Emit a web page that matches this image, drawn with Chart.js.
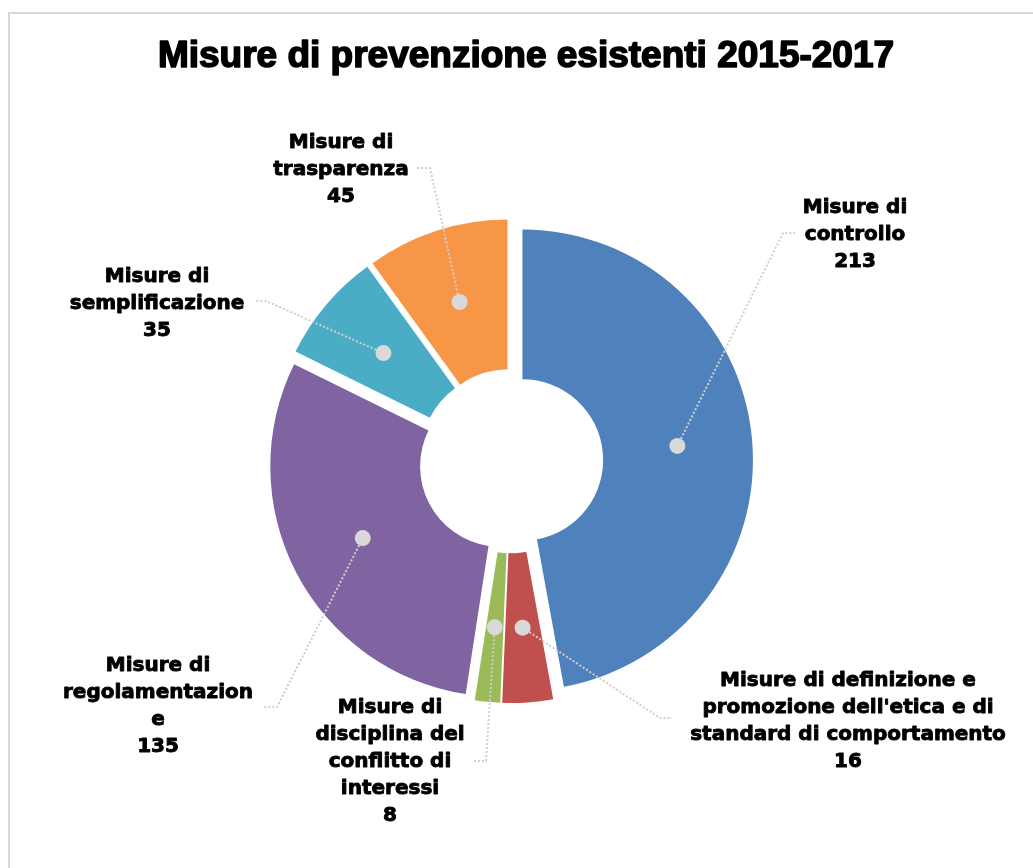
<!DOCTYPE html>
<html>
<head>
<meta charset="utf-8">
<script src="https://cdn.jsdelivr.net/npm/chart.js@4/dist/chart.umd.min.js"></script>
<style>
html,body{margin:0;padding:0;background:#fff;}
#wrap{position:absolute;left:0;top:0;width:1033px;height:868px;}
#frame{position:absolute;left:8px;top:12px;width:1040px;height:900px;border-left:2px solid #d9d9d9;border-top:2px solid #d9d9d9;box-sizing:border-box;}
canvas{position:absolute;left:0;top:0;}
</style>
</head>
<body>
<div id="wrap"><div id="frame"></div><canvas id="c" width="1033" height="868"></canvas></div>
<script>
const title = "Misure di prevenzione esistenti 2015-2017";
const categories = [
  "Misure di controllo",
  "Misure di definizione e promozione dell'etica e di standard di comportamento",
  "Misure di disciplina del conflitto di interessi",
  "Misure di regolamentazione",
  "Misure di semplificazione",
  "Misure di trasparenza"
];
const values = [213, 16, 8, 135, 35, 45];
const labelLines = [
  ["Misure di", "controllo", "213"],
  ["Misure di definizione e", "promozione dell'etica e di", "standard di comportamento", "16"],
  ["Misure di", "disciplina del", "conflitto di", "interessi", "8"],
  ["Misure di", "regolamentazion", "e", "135"],
  ["Misure di", "semplificazione", "35"],
  ["Misure di", "trasparenza", "45"]
];
const colors = ["#4F81BD", "#C0504D", "#9BBB59", "#8064A2", "#4BACC6", "#F79646"];

// label layout (text center x, first line y, leader end point, elbow point)
const labelLayout = [
  {x: 855, y: 208, end: [795, 233], elbow: [783, 233]},
  {x: 848, y: 681, end: [672, 718], elbow: [660, 718]},
  {x: 390, y: 708, end: [474, 761], elbow: [486, 761]},
  {x: 158, y: 666, end: [264, 707], elbow: [277, 707]},
  {x: 157, y: 277, end: [255, 301], elbow: [266, 301]},
  {x: 341, y: 143, end: [417, 168], elbow: [430, 168]}
];
const explode = 11.5;
const lineH = 27;

const explodePlugin = {
  id: 'explode',
  afterDatasetUpdate(chart, args) {
    const meta = args.meta;
    const ca = chart.chartArea;
    const cx = (ca.left + ca.right) / 2, cy = (ca.top + ca.bottom) / 2;
    meta.data.forEach(arc => {
      const mid = (arc.startAngle + arc.endAngle) / 2;
      arc.x = cx + Math.cos(mid) * explode;
      arc.y = cy + Math.sin(mid) * explode;
    });
  }
};

const labelPlugin = {
  id: 'labels',
  afterDatasetsDraw(chart) {
    const ctx = chart.ctx;
    const meta = chart.getDatasetMeta(0);
    ctx.save();
    meta.data.forEach((arc, i) => {
      const mid = (arc.startAngle + arc.endAngle) / 2;
      const r = (arc.innerRadius + arc.outerRadius) / 2;
      const px = arc.x + Math.cos(mid) * r;
      const py = arc.y + Math.sin(mid) * r;
      const L = labelLayout[i];
      ctx.strokeStyle = '#cfcfcf';
      ctx.lineWidth = 2;
      ctx.setLineDash([2, 2]);
      ctx.beginPath();
      ctx.moveTo(px, py);
      ctx.lineTo(L.elbow[0], L.elbow[1]);
      ctx.lineTo(L.end[0], L.end[1]);
      ctx.stroke();
      ctx.setLineDash([]);
      ctx.fillStyle = '#d9d9d9';
      ctx.beginPath();
      ctx.arc(px, py, 8, 0, Math.PI * 2);
      ctx.fill();
      ctx.fillStyle = '#000';
      ctx.strokeStyle = '#000';
      ctx.lineWidth = 0.9;
      ctx.lineJoin = 'round';
      ctx.font = 'bold 20px "DejaVu Sans"';
      ctx.textAlign = 'center';
      ctx.textBaseline = 'middle';
      labelLines[i].forEach((t, k) => {
        ctx.fillText(t, L.x, L.y + k * lineH);
        ctx.strokeText(t, L.x, L.y + k * lineH);
      });
    });
    ctx.fillStyle = '#000';
    ctx.strokeStyle = '#000';
    ctx.lineWidth = 1.6;
    ctx.font = 'bold 37px "Liberation Sans"';
    ctx.textAlign = 'center';
    ctx.textBaseline = 'middle';
    ctx.fillText(title, 526, 57);
    ctx.strokeText(title, 526, 57);
    ctx.restore();
  }
};

new Chart(document.getElementById('c'), {
  type: 'doughnut',
  data: {
    labels: categories,
    datasets: [{
      data: values,
      backgroundColor: colors,
      borderWidth: 0,
      offset: 0
    }]
  },
  options: {
    responsive: false,
    animation: false,
    radius: 230.5,
    cutout: '35%',
    layout: {padding: {left: 0, right: 11, top: 54, bottom: 0}},
    plugins: {
      legend: {display: false},
      title: {display: false},
      tooltip: {enabled: false}
    },
    events: []
  },
  plugins: [explodePlugin, labelPlugin]
});
</script>
</body>
</html>
